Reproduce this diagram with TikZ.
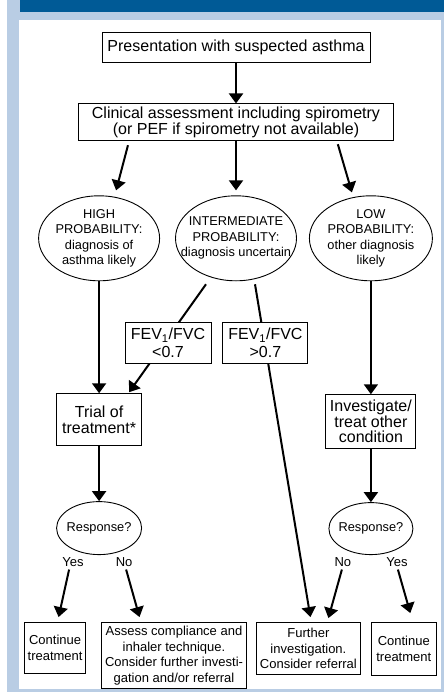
\documentclass[tikz,border=0pt]{standalone}
\usepackage{fontspec}
\setmainfont{Liberation Sans}
\usetikzlibrary{arrows.meta,positioning,shapes}
\definecolor{panelblue}{RGB}{185,205,228}
\definecolor{headblue}{RGB}{0,90,150}

\tikzset{
box/.style={draw, line width=0.9pt, fill=white, align=center, inner sep=2pt, font=\fontsize{16}{16}\selectfont},
endbox/.style={box, font=\fontsize{13}{15.5}\selectfont},
ell/.style={ellipse, draw, line width=0.9pt, minimum width=121pt, minimum height=85pt, inner sep=0pt},
etext/.style={align=center, font=\fontsize{12.8}{15.5}\selectfont, inner sep=0pt},
lbl/.style={font=\fontsize{13}{14}\selectfont, inner sep=1pt},
arr/.style={line width=2pt, -{Triangle[length=10pt,width=14pt]}},
}

\begin{document}
\begin{tikzpicture}[x=1pt,y=-1pt]
\useasboundingbox (0,0) rectangle (444,693);
% frame
\fill[white] (0,0) rectangle (444,693);
\fill[panelblue] (7,0) rectangle (444,692);
\fill[headblue] (20,0) rectangle (444,12);
\fill[white] (19,20) rectangle (441,689);

\node[box, minimum width=268pt, minimum height=30pt] (pres) at (236,47) {Presentation with suspected asthma};
\node[box, below=41pt of pres, minimum width=315pt, minimum height=37pt] (clin) {Clinical assessment including spirometry\\(or PEF if spirometry not available)};

% probability
\node[ell, below=54pt of clin, label={[etext]center:INTERMEDIATE\\PROBABILITY:\\diagnosis uncertain}] (inter) {};
\node[ell, left=15pt of inter, label={[etext]center:HIGH\\PROBABILITY:\\diagnosis of\\asthma likely}] (high) {};
\node[ell, right=12pt of inter, minimum width=123pt, label={[etext]center:LOW\\PROBABILITY:\\other diagnosis\\likely}] (low) {};

\node[box, below=112pt of high, minimum width=85pt, minimum height=52pt] (trial) {Trial of\\treatment*};
\node[box, below=113pt of low, minimum width=90pt, minimum height=54pt, font=\fontsize{16}{15.5}\selectfont] (invest) {Investigate/\\treat other\\condition};

% response
\node[ell, below=55pt of trial, minimum width=85pt, minimum height=53pt, label={[etext]center:Response?}] (respL) {};
\node[ell, below=53pt of invest, minimum width=84pt, minimum height=52pt, label={[etext]center:Response?}] (respR) {};
\node[lbl, below=1pt of respL, xshift=-26pt] (yesL) {Yes};
\node[lbl, below=1pt of respL, xshift=25pt] (noL) {No};
\node[lbl, below=1pt of respR, xshift=-28pt] (noR) {No};
\node[lbl, below=1pt of respR, xshift=26pt] (yesR) {Yes};

% outcomes
\node[endbox, below=67pt of respL, xshift=-44pt, minimum width=61pt, minimum height=51pt] (contL) {Continue\\treatment};
\node[endbox, right=15pt of contL.north east, anchor=north west, minimum width=145pt, minimum height=66pt] (assess) {Assess compliance and\\inhaler technique.\\Consider further investi-\\gation and/or referral};
\node[endbox, right=9pt of assess.north east, anchor=north west, minimum width=104pt, minimum height=52pt] (further) {Further\\investigation.\\Consider referral};
\node[endbox, right=10pt of further.north east, anchor=north west, minimum width=65pt, minimum height=53pt] (contR) {Continue\\treatment};

\draw[arr] (pres) -- (clin);
\draw[arr, shorten <=4pt] ([xshift=-107pt]clin.south) -- ([xshift=17pt,yshift=5pt]high.north);
\draw[arr] (clin) -- ([yshift=5pt]inter.north);
\draw[arr, shorten <=3pt] ([xshift=101pt]clin.south) -- ([xshift=-19pt,yshift=3pt]low.north);
\draw[arr] (high) -- (trial);
\draw[arr] ([xshift=-30pt,yshift=-3pt]inter.south) -- ([xshift=-13pt,yshift=1pt]trial.north east);
\draw[arr] ([xshift=19pt,yshift=-3pt]inter.south) -- ([xshift=2pt,yshift=5pt]further.north);
\draw[arr] (low) -- (invest);
\draw[arr] (trial) -- (respL);
\draw[arr] (invest) -- (respR);
\draw[arr] ([xshift=-4pt,yshift=-2pt]yesL.south) -- ([xshift=3.5pt,yshift=5pt]contL.north);
\draw[arr] ([xshift=2pt,yshift=-2pt]noL.south) -- ([xshift=-34.5pt,yshift=5pt]assess.north);
\draw[arr] ([xshift=-1pt,yshift=-2pt]noR.south) -- ([xshift=20pt,yshift=4pt]further.north);
\draw[arr] ([xshift=1pt,yshift=-2pt]yesR.south) -- ([xshift=6.5pt,yshift=9pt]contR.north);

% spirometry split, boxes sit on the lines
\node[box, below=41pt of inter, xshift=-68pt, minimum width=86pt, minimum height=41pt, font=\fontsize{16}{18}\selectfont] (fevlo) {FEV\textsubscript{1}/FVC\\<0.7};
\node[box, right=11pt of fevlo, minimum width=85pt, minimum height=41pt, font=\fontsize{16}{18}\selectfont] (fevhi) {FEV\textsubscript{1}/FVC\\>0.7};
\end{tikzpicture}
\end{document}
